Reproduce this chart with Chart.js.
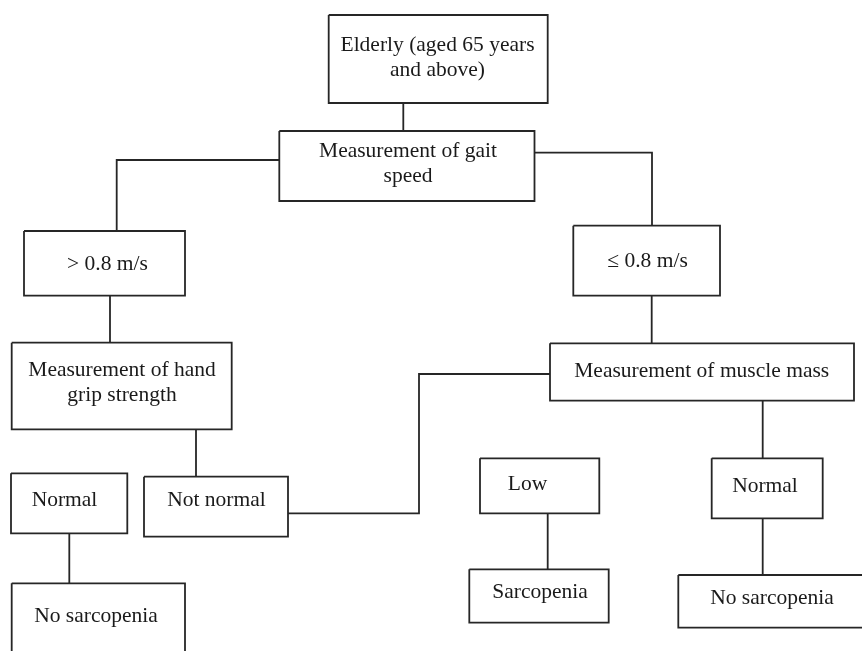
<!DOCTYPE html>
<html>
<head>
<meta charset="utf-8">
<script src="https://cdn.jsdelivr.net/npm/chart.js@4.4.1/dist/chart.umd.min.js"></script>
<style>
  html, body { margin: 0; padding: 0; background: #fff; }
  #wrap { width: 862px; height: 651px; }
</style>
</head>
<body>
<div id="wrap"><canvas id="flow" width="862" height="651"></canvas></div>
<script>
// boxes of the flowchart, in picture units (x to the right, y downwards)
const boxNames  = ["elderly", "gait", "fast", "slow", "grip", "muscle", "normalL", "notNormal", "noSarcL", "low", "normalR", "sarc", "noSarcR"];
const boxLeft   = [328.7, 279.3, 24,    573.3, 11.7,  550,   11,    144,   11.7,  480,   711.7, 469.3, 678.3];
const boxRight  = [547.7, 534.5, 185,   720,   231.7, 854,   127.3, 288,   185,   599.3, 822.7, 608.7, 880];
const boxTop    = [15,    131,   231,   225.7, 342.7, 343.3, 473.3, 476.7, 583.3, 458.3, 458.3, 569.3, 575];
const boxBottom = [103,   201,   295.7, 295.7, 429.3, 400.7, 533.3, 536.7, 670,   513.3, 518.3, 622.7, 627.7];

// text lines in each box and where their middles sit
const boxText  = [
  ["Elderly (aged 65 years", "and above)"],
  ["Measurement of gait", "speed"],
  ["> 0.8 m/s"],
  ["\u2264 0.8 m/s"],
  ["Measurement of hand", "grip strength"],
  ["Measurement of muscle mass"],
  ["Normal"],
  ["Not normal"],
  ["No sarcopenia"],
  ["Low"],
  ["Normal"],
  ["Sarcopenia"],
  ["No sarcopenia"]
];
const textX    = [437.5, 408, 107.5, 647.5, 122, 701.7, 64.5, 216.5, 96, 527.5, 765, 540, 772];
const textY    = [45,    151, 264.5, 261, 370, 371, 500.5, 500.5, 616.5, 484.5, 486, 592.5, 598.5];
const lineStep = 25;

// connector polylines
const connectors = [
  [[403.3, 103], [403.3, 131]],
  [[279.3, 160], [116.7, 160], [116.7, 231]],
  [[534.5, 152.7], [652, 152.7], [652, 225.7]],
  [[110, 295.7], [110, 342.7]],
  [[651.7, 295.7], [651.7, 343.3]],
  [[196, 429.3], [196, 476.7]],
  [[288, 513.3], [419, 513.3], [419, 374], [550, 374]],
  [[762.7, 400.7], [762.7, 458.3]],
  [[69.3, 533.3], [69.3, 583.3]],
  [[547.7, 513.3], [547.7, 569.3]],
  [[762.7, 518.3], [762.7, 575]]
];

const ink = "#262626";

const datasets = [];
boxNames.forEach((name, i) => {
  datasets.push({
    label: name,
    data: [
      { x: boxLeft[i], y: boxTop[i] },
      { x: boxRight[i], y: boxTop[i] },
      { x: boxRight[i], y: boxBottom[i] },
      { x: boxLeft[i], y: boxBottom[i] },
      { x: boxLeft[i], y: boxTop[i] }
    ]
  });
});
connectors.forEach((pts, i) => {
  datasets.push({
    label: "link" + i,
    data: pts.map(p => ({ x: p[0], y: p[1] }))
  });
});
datasets.forEach(d => {
  d.showLine = true;
  d.borderColor = ink;
  d.borderWidth = 1.8;
  d.pointRadius = 0;
  d.fill = false;
  d.tension = 0;
  d.borderJoinStyle = "miter";
});

const labelPlugin = {
  id: "boxLabels",
  afterDatasetsDraw(chart) {
    const ctx = chart.ctx;
    const xs = chart.scales.x;
    const ys = chart.scales.y;
    ctx.save();
    ctx.fillStyle = "#1a1a1a";
    ctx.font = "21.5px 'Liberation Serif', 'Times New Roman', serif";
    ctx.textAlign = "center";
    ctx.textBaseline = "middle";
    boxText.forEach((lines, i) => {
      lines.forEach((t, k) => {
        ctx.fillText(t, xs.getPixelForValue(textX[i]), ys.getPixelForValue(textY[i] + k * lineStep));
      });
    });
    ctx.restore();
  }
};

new Chart(document.getElementById("flow"), {
  type: "scatter",
  data: { datasets: datasets },
  options: {
    responsive: false,
    animation: false,
    layout: { padding: 0 },
    plugins: {
      legend: { display: false },
      tooltip: { enabled: false }
    },
    scales: {
      x: { type: "linear", min: 0, max: 862, display: false },
      y: { type: "linear", min: 0, max: 651, reverse: true, display: false }
    }
  },
  plugins: [labelPlugin]
});
</script>
</body>
</html>
